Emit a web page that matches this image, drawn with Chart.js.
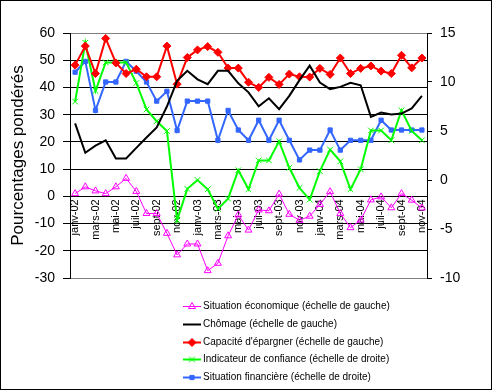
<!DOCTYPE html>
<html>
<head>
<meta charset="utf-8">
<script src="https://cdn.jsdelivr.net/npm/chart.js@4.4.0/dist/chart.umd.min.js"></script>
<style>
  html, body { margin: 0; padding: 0; background: #fff; }
  #wrap { width: 492px; height: 390px; }
</style>
</head>
<body>
<div id="wrap"><canvas id="chart" width="492" height="390"></canvas></div>
<script>
// Mois (janv-02 à nov-04)
const mois = [
  'janv-02','févr-02','mars-02','avr-02','mai-02','juin-02','juil-02','août-02','sept-02','oct-02','nov-02','déc-02',
  'janv-03','févr-03','mars-03','avr-03','mai-03','juin-03','juil-03','août-03','sept-03','oct-03','nov-03','déc-03',
  'janv-04','févr-04','mars-04','avr-04','mai-04','juin-04','juil-04','août-04','sept-04','oct-04','nov-04'
];

// échelle de gauche
const situationEconomique = [1, 3.5, 2, 1, 3.5, 6.6, 1.8, -6.3, -6.3, -13.6, -21.5, -17.5, -17.5, -27.3, -24.6, -14.5, -6.8, -12.4, -5, -5.3, 0.8, -6.6, -8.8, -7.3, -3, 1.7, -6.3, -11.5, -8.7, -1.3, -0.2, -4.2, 1, -1.4, -4.3];
const chomage = [26.8, 16, 18.6, 20.6, 13.9, 13.9, 17.8, 21.6, 25.3, 33, 42.4, 46.1, 43, 41.2, 46.1, 46.1, 41.5, 38.2, 33.1, 36, 32, 36.9, 42.7, 48, 41.8, 39.4, 40.2, 41.7, 40.8, 29.2, 30.8, 30.1, 30.4, 32.3, 36.9];
const capaciteEpargner = [48.2, 55.2, 45.1, 58, 49, 45.1, 46.7, 43.9, 43.9, 55.2, 41.2, 51, 53.8, 55, 52.9, 47.1, 47.1, 41.9, 40, 43.7, 41.1, 44.9, 43.9, 43.8, 47, 44.8, 50.8, 45.1, 47, 47.9, 46, 45.1, 51.8, 47.2, 50.8];

// échelle de droite
const indicateurConfiance = [8, 14, 9.1, 12, 12, 12, 9.9, 7.2, 6, 5, -4.1, -0.9, 0, -0.95, -2.95, -1.9, 1, -0.95, 2, 2, 3.95, 1.25, -0.8, -2, 0.9, 3.1, 1.9, -0.95, 1.1, 5.05, 5.05, 4.05, 7.1, 5, 4.05];
const situationFinanciere = [11, 12.1, 7.1, 10, 10, 12.1, 11.1, 10, 8.05, 9.05, 5.05, 8.05, 8.05, 8.05, 4.05, 7.1, 5.1, 4.05, 6.1, 4.05, 6.1, 4.05, 2.05, 3.05, 3.05, 5.1, 3.05, 4.05, 4.05, 4.05, 6.1, 5.1, 5.1, 5.1, 5.1];

const police = 'Arial, "Liberation Sans", sans-serif';

// fond blanc + cadre noir autour du graphique
const cadre = {
  id: 'cadre',
  beforeDraw(chart) {
    const ctx = chart.ctx;
    ctx.save();
    ctx.fillStyle = '#fff';
    ctx.fillRect(0, 0, chart.width, chart.height);
    ctx.restore();
  },
  afterDraw(chart) {
    const ctx = chart.ctx;
    ctx.save();
    ctx.strokeStyle = '#000';
    ctx.lineWidth = 1;
    ctx.strokeRect(0.5, 0.5, chart.width - 1, chart.height - 1);
    ctx.restore();
  }
};

// légende en colonne sous le graphique
const legende = {
  id: 'legende',
  afterDraw(chart) {
    const ctx = chart.ctx;
    ctx.save();
    ctx.font = '10px ' + police;
    ctx.textBaseline = 'middle';
    chart.data.datasets.forEach((ds, i) => {
      const y = Math.round(306 + i * 17.8) + 0.5;
      ctx.strokeStyle = ds.borderColor;
      ctx.lineWidth = ds.borderWidth;
      ctx.beginPath();
      ctx.moveTo(183, y);
      ctx.lineTo(201, y);
      ctx.stroke();
      if (ds.pointRadius > 0) {
        ctx.fillStyle = ds.pointBackgroundColor;
        ctx.strokeStyle = ds.pointBorderColor;
        ctx.lineWidth = ds.pointBorderWidth;
        Chart.helpers.drawPoint(ctx, {
          pointStyle: ds.pointStyle, radius: ds.pointRadius,
          borderWidth: ds.pointBorderWidth, rotation: 0
        }, 192, y);
      }
      ctx.fillStyle = '#000';
      ctx.fillText(ds.label, 203, y);
    });
    ctx.restore();
  }
};

function serie(label, data, couleur, axe, style, rayon, epaisseur, fond) {
  return {
    label: label,
    data: data,
    yAxisID: axe,
    borderColor: couleur,
    borderWidth: epaisseur,
    tension: 0,
    fill: false,
    pointStyle: style,
    pointRadius: rayon,
    pointHoverRadius: rayon,
    pointBackgroundColor: fond,
    pointBorderColor: couleur,
    pointBorderWidth: 1
  };
}

new Chart(document.getElementById('chart'), {
  type: 'line',
  data: {
    labels: mois,
    datasets: [
      serie('Situation économique (échelle de gauche)', situationEconomique, '#FF00FF', 'y', 'triangle', 4, 1, 'rgba(0,0,0,0)'),
      serie('Chômage (échelle de gauche)', chomage, '#000000', 'y', 'circle', 0, 2, '#000000'),
      serie("Capacité d'épargner (échelle de gauche)", capaciteEpargner, '#FF0000', 'y', 'rectRot', 4, 2, '#FF0000'),
      serie('Indicateur de confiance (échelle de droite)', indicateurConfiance, '#00FF00', 'y1', 'crossRot', 4, 2, '#00FF00'),
      serie('Situation financière (échelle de droite)', situationFinanciere, '#3366FF', 'y1', 'rect', 3, 2, '#3366FF')
    ]
  },
  options: {
    responsive: false,
    animation: false,
    layout: { padding: { left: 0, right: 0, top: 33, bottom: 112 } },
    plugins: {
      legend: { display: false },
      tooltip: { enabled: false }
    },
    scales: {
      x: {
        position: { y: 0 },
        offset: true,
        grid: { display: false, drawTicks: false },
        border: { display: false },
        ticks: {
          autoSkip: false,
          minRotation: 90,
          maxRotation: 90,
          padding: 3,
          color: '#000',
          font: { family: police, size: 11 },
          callback: function (v, i) { return i % 2 === 0 ? mois[i] : null; }
        }
      },
      y: {
        position: 'left',
        min: -30,
        max: 60,
        afterFit: function (s) { s.width = 70; },
        ticks: { stepSize: 10, padding: 8, color: '#000', font: { family: police, size: 14 } },
        grid: {
          color: c => (c.tick && (c.tick.value === 60 || c.tick.value === -30)) ? '#808080' : '#000000',
          lineWidth: 1,
          tickLength: 7,
          tickColor: '#000'
        },
        border: { display: true, color: '#000', width: 1 },
        title: {
          display: true,
          text: 'Pourcentages pondérés',
          color: '#000',
          font: { family: police, size: 17 },
          padding: { top: 8, bottom: 0 }
        }
      },
      y1: {
        position: 'right',
        min: -10,
        max: 15,
        afterFit: function (s) { s.width = 65; },
        ticks: { stepSize: 5, padding: 8, color: '#000', font: { family: police, size: 14 } },
        grid: { drawOnChartArea: false, tickLength: 5, color: '#000' },
        border: { display: true, color: '#000', width: 1 }
      }
    }
  },
  plugins: [cadre, legende]
});
</script>
</body>
</html>
